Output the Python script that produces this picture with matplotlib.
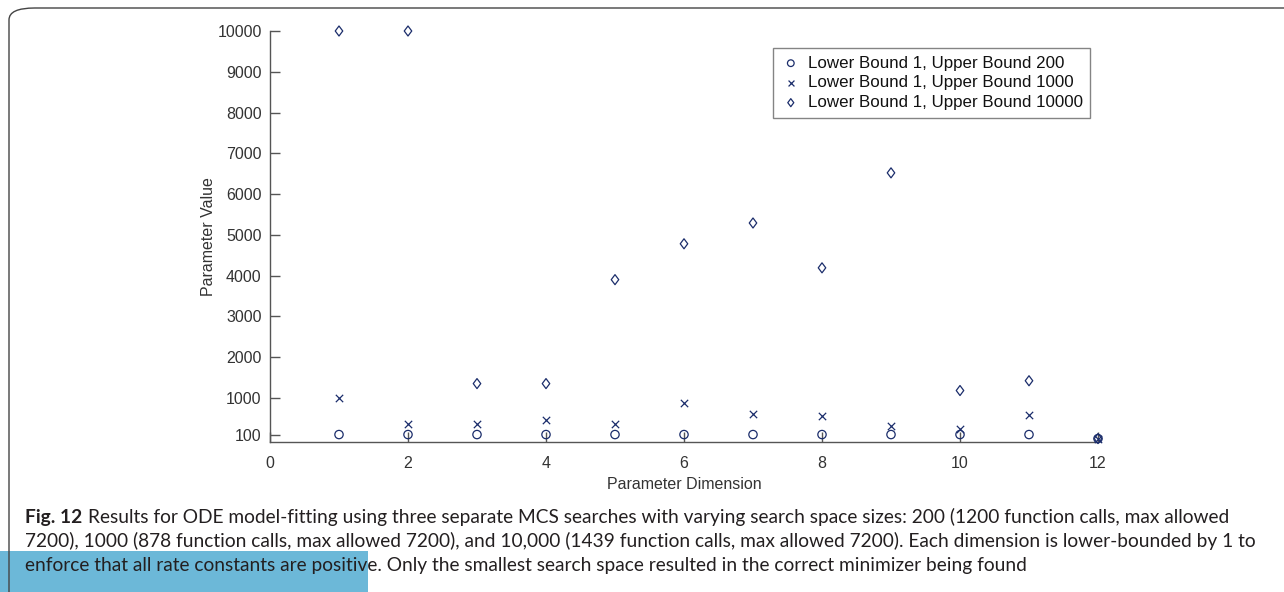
import matplotlib
matplotlib.use("Agg")
import numpy as np
import matplotlib.pyplot as plt
from matplotlib.patches import FancyBboxPatch, Rectangle
from matplotlib.path import Path

dims = list(range(1, 13))
ub_200 = [100, 100, 100, 100, 100, 100, 100, 100, 100, 100, 100, 1]
ub_1000 = [1000, 365, 365, 455, 365, 875, 615, 555, 300, 230, 575, 1]
ub_10000 = [10000, 10000, 1350, 1350, 3900, 4780, 5290, 4190, 6520, 1180, 1420, 1]

labels = ["Lower Bound 1, Upper Bound 200",
          "Lower Bound 1, Upper Bound 1000",
          "Lower Bound 1, Upper Bound 10000"]
yticks = [100, 1000, 2000, 3000, 4000, 5000, 6000, 7000, 8000, 9000, 10000]
xticks = [0, 2, 4, 6, 8, 10, 12]

caption_lines = [
    "Results for ODE model-fitting using three separate MCS searches with varying search space sizes: 200 (1200 function calls, max allowed",
    "7200), 1000 (878 function calls, max allowed 7200), and 10,000 (1439 function calls, max allowed 7200). Each dimension is lower-bounded by 1 to",
    "enforce that all rate constants are positive. Only the smallest search space resulted in the correct minimizer being found",
]

W, H = 1284, 592
plt.rcParams['font.family'] = ['Liberation Sans', 'DejaVu Sans']
fig = plt.figure(figsize=(W / 100, H / 100), dpi=100)

# outer frame with rounded top-left corner
frame = FancyBboxPatch((9 / W, -0.2), 1.2, (H - 8) / H + 0.2,
                       boxstyle="round,pad=0,rounding_size=0.02",
                       transform=fig.transFigure, fill=False,
                       edgecolor="#444444", linewidth=1.0)
fig.patches.append(frame)

# matlab-like diamond, a bit wider than mpl's thin one
diamond = Path([(0, 1), (0.75, 0), (0, -1), (-0.75, 0), (0, 1)],
               [Path.MOVETO, Path.LINETO, Path.LINETO, Path.LINETO, Path.CLOSEPOLY])

ax = fig.add_axes([270 / W, 1 - 442.3 / H, (1098 - 270) / W, (442.3 - 31) / H])
navy = "#1b2d6b"
ax.scatter(dims, ub_200, marker="o", s=36, facecolors="none", edgecolors=navy,
           linewidths=0.9, label=labels[0], zorder=3, clip_on=False)
ax.scatter(dims, ub_1000, marker="x", s=28, color=navy, linewidths=0.9,
           label=labels[1], zorder=3, clip_on=False)
ax.scatter(dims, ub_10000, marker=diamond, s=52, facecolors="none", edgecolors=navy,
           linewidths=0.9, label=labels[2], zorder=3, clip_on=False)

ax.set_xlim(0, 12)
ax.set_ylim(-90, 10000)
ax.set_xticks(xticks)
ax.set_yticks(yticks)
for s in ["top", "right"]:
    ax.spines[s].set_visible(False)
for s in ["left", "bottom"]:
    ax.spines[s].set_color("#555555")
    ax.spines[s].set_linewidth(1.0)
ax.tick_params(direction="in", length=7, width=1.0, color="#555555",
               labelsize=11.5, labelcolor="#333333")
ax.tick_params(axis="y", pad=6)
ax.tick_params(axis="x", pad=10)
ax.set_xlabel("Parameter Dimension", fontsize=11.5, color="#333333", labelpad=4)
ax.set_ylabel("Parameter Value", fontsize=11.5, color="#333333", labelpad=1)

leg = ax.legend(loc="upper left", bbox_to_anchor=(773 / W, 1 - 48 / H),
                bbox_transform=fig.transFigure, fontsize=12.2, frameon=True,
                fancybox=False, handletextpad=0.4, borderpad=0.45,
                labelspacing=0.28, handlelength=1.2, markerscale=0.8,
                borderaxespad=0)
leg.get_frame().set_edgecolor("#666666")
leg.get_frame().set_linewidth(1.0)
for t in leg.get_texts():
    t.set_color("#111111")

# blue bar at the bottom left
fig.patches.append(Rectangle((0, 0), 368 / W, (H - 551) / H,
                             transform=fig.transFigure, facecolor="#6cb8d8",
                             edgecolor="none", zorder=0))

# caption: pick a size so the second line spans the text block width
cap_font = ['Lato', 'Liberation Sans', 'DejaVu Sans']
renderer = fig.canvas.get_renderer()
probe = fig.text(0, 0, caption_lines[1], fontsize=14, family=cap_font)
wpx = probe.get_window_extent(renderer).width
probe.remove()
cap_size = 14 * (1262 - 25) / wpx

head = fig.text(25 / W, 1 - 517 / H, "Fig. 12", fontsize=cap_size, fontweight="bold",
                family=cap_font, color="#231f20", va="center", ha="left")
hx = head.get_window_extent(renderer).x1
fig.text((hx + 6) / W, 1 - 517 / H, caption_lines[0], fontsize=cap_size,
         family=cap_font, color="#231f20", va="center", ha="left")
fig.text(25 / W, 1 - 541 / H, caption_lines[1], fontsize=cap_size,
         family=cap_font, color="#231f20", va="center", ha="left")
fig.text(25 / W, 1 - 565 / H, caption_lines[2], fontsize=cap_size,
         family=cap_font, color="#231f20", va="center", ha="left")

fig.savefig("out.png", dpi=100)
